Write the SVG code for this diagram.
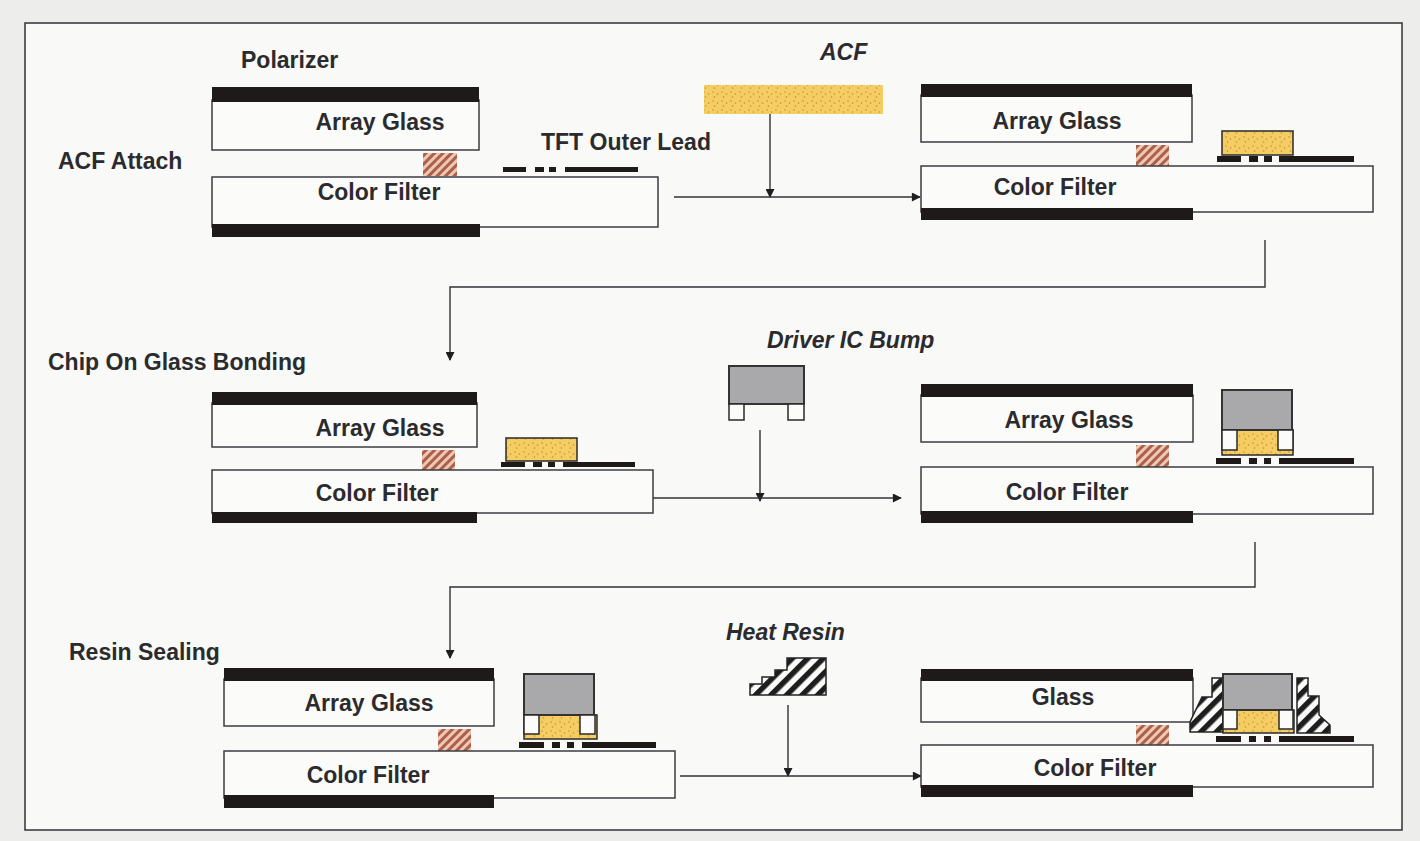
<svg xmlns="http://www.w3.org/2000/svg" width="1420" height="841" viewBox="0 0 1420 841">
<style>
text{font-family:"Liberation Sans",Arial,sans-serif;font-weight:bold;fill:#2b2b2e;font-size:23px}
.i{font-style:italic}
.m{text-anchor:middle}
.g{fill:#fbfbfa;stroke:#3a3d42;stroke-width:1.5}
.k{fill:#1e1a1a}
.s{fill:url(#seal)}
.a{fill:url(#acf);stroke:#2a2a2a;stroke-width:1.5}
.c{fill:#a9a9ab;stroke:#333;stroke-width:2}
.b{fill:#fbfbfa;stroke:#2a2a2a;stroke-width:1.5}
.r{fill:url(#resin);stroke:#222;stroke-width:1.5}
.l{fill:none;stroke:#2f3236;stroke-width:1.4}
</style>
<defs>
<pattern id="seal" width="6" height="6" patternUnits="userSpaceOnUse" patternTransform="rotate(45)"><rect width="6" height="6" fill="#edc9b4"/><rect width="3" height="6" fill="#ad5f4b"/></pattern>
<pattern id="acf" width="9" height="9" patternUnits="userSpaceOnUse"><rect width="9" height="9" fill="#f5cd62"/><circle cx="2" cy="2" r=".8" fill="#c48f3a"/><circle cx="6.5" cy="4" r=".8" fill="#c48f3a"/><circle cx="3.5" cy="7" r=".8" fill="#c48f3a"/></pattern>
<pattern id="resin" width="11" height="11" patternUnits="userSpaceOnUse" patternTransform="rotate(-45)"><rect width="11" height="11" fill="#fbfbfa"/><rect width="11" height="5.5" fill="#1e1e1e"/></pattern>
<marker id="ah" viewBox="0 0 10 10" refX="9" refY="5" markerWidth="10" markerHeight="9" markerUnits="userSpaceOnUse" orient="auto"><path d="M0 0L10 5L0 10Z" fill="#1e1e1e"/></marker>
</defs>
<rect width="1420" height="841" fill="#ededec"/>
<rect x="25" y="23" width="1377" height="807" fill="#f9f9f8" stroke="#2f3236" stroke-width="1.5"/>

<g id="connectors" class="conn">
<path class="l" d="M770 114V197" marker-end="url(#ah)"/>
<path class="l" d="M674 197H920" marker-end="url(#ah)"/>
<path class="l" d="M1265 240V287H450V360" marker-end="url(#ah)"/>
<path class="l" d="M760 430V501" marker-end="url(#ah)"/>
<path class="l" d="M653 498H901" marker-end="url(#ah)"/>
<path class="l" d="M1255 542V587H450V658" marker-end="url(#ah)"/>
<path class="l" d="M788 705V776" marker-end="url(#ah)"/>
<path class="l" d="M680 776H921" marker-end="url(#ah)"/>
</g>

<g id="step1-before">
<rect class="g" x="212" y="100" width="267" height="50"/><rect class="k" x="212" y="87" width="267" height="15"/>
<text class="m" x="380" y="130">Array Glass</text>
<rect class="s" x="423" y="153" width="34" height="23"/>
<rect class="k" x="503" y="167" width="23" height="5"/><rect class="k" x="535" y="167" width="9" height="5"/><rect class="k" x="549" y="167" width="7" height="5"/><rect class="k" x="565" y="167" width="73" height="5"/>
<rect class="g" x="212" y="177" width="446" height="50"/><rect class="k" x="212" y="224" width="268" height="13"/>
<text class="m" x="379" y="200">Color Filter</text>
</g>
<g id="label-polarizer"><text x="241" y="68">Polarizer</text></g>
<g id="label-acf-attach"><text x="58" y="169">ACF Attach</text></g>
<g id="label-outer-lead"><text x="541" y="150">TFT Outer Lead</text></g>
<g id="acf-source"><text class="i" x="820" y="60">ACF</text><rect x="704" y="85" width="179" height="29" fill="url(#acf)"/></g>

<g id="step1-after">
<rect class="g" x="921" y="95" width="271" height="47"/><rect class="k" x="921" y="84" width="271" height="13"/>
<text class="m" x="1057" y="129">Array Glass</text>
<rect class="s" x="1136" y="145" width="33" height="21"/>
<rect class="a" x="1222" y="131" width="71" height="24"/>
<rect class="k" x="1217" y="156" width="24" height="6"/><rect class="k" x="1249" y="156" width="9" height="6"/><rect class="k" x="1264" y="156" width="8" height="6"/><rect class="k" x="1279" y="156" width="75" height="6"/>
<rect class="g" x="921" y="166" width="452" height="46"/><rect class="k" x="921" y="208" width="272" height="12"/>
<text class="m" x="1055" y="195">Color Filter</text>
</g>

<g id="label-cog"><text x="48" y="370">Chip On Glass Bonding</text></g>
<g id="step2-before">
<rect class="g" x="212" y="403" width="265" height="44"/><rect class="k" x="212" y="392" width="265" height="13"/>
<text class="m" x="380" y="436">Array Glass</text>
<rect class="s" x="422" y="450" width="33" height="20"/>
<rect class="a" x="506" y="438" width="71" height="23"/>
<rect class="k" x="501" y="462" width="24" height="5"/><rect class="k" x="533" y="462" width="9" height="5"/><rect class="k" x="548" y="462" width="7" height="5"/><rect class="k" x="563" y="462" width="72" height="5"/>
<rect class="g" x="212" y="470" width="441" height="43"/><rect class="k" x="212" y="512" width="265" height="11"/>
<text class="m" x="377" y="501">Color Filter</text>
</g>
<g id="driver-source">
<text class="i" x="767" y="348">Driver IC Bump</text>
<rect class="c" x="729" y="366" width="75" height="38"/>
<rect class="b" x="729" y="404" width="15" height="16"/><rect class="b" x="788" y="404" width="16" height="16"/>
</g>
<g id="step2-after">
<rect class="g" x="921" y="395" width="272" height="47"/><rect class="k" x="921" y="384" width="272" height="13"/>
<text class="m" x="1069" y="428">Array Glass</text>
<rect class="s" x="1136" y="445" width="33" height="22"/>
<rect class="a" x="1222" y="430" width="71" height="25"/>
<rect class="c" x="1222" y="390" width="70" height="40"/>
<rect class="b" x="1222" y="430" width="15" height="20"/><rect class="b" x="1278" y="430" width="15" height="20"/>
<rect class="k" x="1216" y="458" width="25" height="6"/><rect class="k" x="1249" y="458" width="8" height="6"/><rect class="k" x="1264" y="458" width="7" height="6"/><rect class="k" x="1279" y="458" width="75" height="6"/>
<rect class="g" x="921" y="467" width="452" height="47"/><rect class="k" x="921" y="511" width="272" height="12"/>
<text class="m" x="1067" y="500">Color Filter</text>
</g>

<g id="label-resin"><text x="69" y="660">Resin Sealing</text></g>
<g id="step3-before">
<rect class="g" x="224" y="679" width="270" height="47"/><rect class="k" x="224" y="668" width="270" height="13"/>
<text class="m" x="369" y="711">Array Glass</text>
<rect class="s" x="438" y="729" width="33" height="22"/>
<rect class="a" x="524" y="715" width="73" height="24"/>
<rect class="c" x="524" y="674" width="70" height="41"/>
<rect class="b" x="524" y="715" width="15" height="19"/><rect class="b" x="580" y="715" width="15" height="19"/>
<rect class="k" x="519" y="742" width="25" height="6"/><rect class="k" x="552" y="742" width="8" height="6"/><rect class="k" x="567" y="742" width="7" height="6"/><rect class="k" x="582" y="742" width="74" height="6"/>
<rect class="g" x="224" y="751" width="451" height="47"/><rect class="k" x="224" y="795" width="270" height="13"/>
<text class="m" x="368" y="783">Color Filter</text>
</g>
<g id="resin-source">
<text class="i" x="726" y="640">Heat Resin</text>
<path class="r" d="M750 695V684H762V677H775V670H787V658H826V695Z"/>
</g>
<g id="step3-after">
<rect class="g" x="921" y="678" width="272" height="44"/><rect class="k" x="921" y="669" width="272" height="12"/>
<text class="m" x="1063" y="705">Glass</text>
<rect class="s" x="1136" y="725" width="33" height="20"/>
<path class="r" d="M1212 678H1223V732H1190V722L1202 697H1212Z"/>
<path class="r" d="M1297 678H1308V696H1319V715L1330 725V733H1297Z"/>
<rect class="a" x="1223" y="710" width="71" height="23"/>
<rect class="c" x="1223" y="674" width="69" height="36"/>
<rect class="b" x="1223" y="710" width="14" height="19"/><rect class="b" x="1279" y="710" width="14" height="19"/>
<rect class="k" x="1216" y="736" width="25" height="6"/><rect class="k" x="1249" y="736" width="7" height="6"/><rect class="k" x="1264" y="736" width="7" height="6"/><rect class="k" x="1279" y="736" width="75" height="6"/>
<rect class="g" x="921" y="745" width="452" height="42"/><rect class="k" x="921" y="785" width="272" height="12"/>
<text class="m" x="1095" y="776">Color Filter</text>
</g>
</svg>
